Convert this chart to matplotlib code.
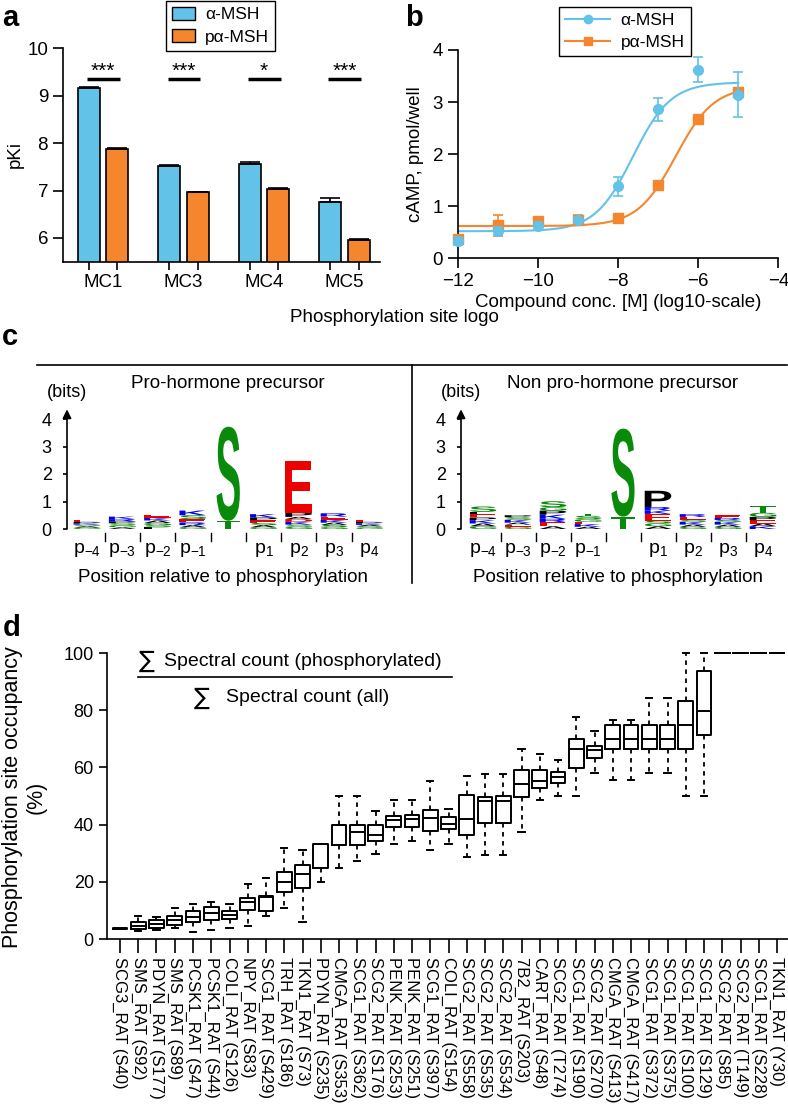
import numpy as np
import matplotlib
matplotlib.use('Agg')
import matplotlib.pyplot as plt
from matplotlib.textpath import TextPath
from matplotlib.patches import PathPatch, Patch
from matplotlib.font_manager import FontProperties
from matplotlib.transforms import Affine2D
from matplotlib.lines import Line2D

plt.rcParams['font.family'] = ['Liberation Sans', 'DejaVu Sans']
plt.rcParams['mathtext.fontset'] = 'custom'
plt.rcParams['mathtext.rm'] = 'Liberation Sans'
plt.rcParams['mathtext.it'] = 'Liberation Sans:italic'
plt.rcParams['axes.linewidth'] = 1.2
plt.rcParams['xtick.major.width'] = 1.2
plt.rcParams['ytick.major.width'] = 1.2
plt.rcParams['xtick.minor.width'] = 1.2

# ---------------- data ----------------
# panel a: binding affinity
receptors = ['MC1', 'MC3', 'MC4', 'MC5']
pki_msh = [9.17, 7.52, 7.56, 6.76]
pki_msh_err = [0.02, 0.02, 0.04, 0.08]
pki_pmsh = [7.87, 6.96, 7.04, 5.96]
pki_pmsh_err = [0.02, 0.02, 0.02, 0.02]
signif = ['***', '***', '*', '***']

# panel b: cAMP dose response
log_conc = [-12, -11, -10, -9, -8, -7, -6, -5]
camp_msh = [0.33, 0.53, 0.62, 0.74, 1.38, 2.86, 3.62, 3.14]
camp_msh_err = [0.08, 0.08, 0.08, 0.05, 0.19, 0.22, 0.24, 0.43]
camp_pmsh = [0.37, 0.63, 0.72, 0.74, 0.77, 1.41, 2.67, 3.19]
camp_pmsh_err = [0.05, 0.21, 0.05, 0.10, 0.03, 0.03, 0.03, 0.03]
# fitted sigmoid parameters (bottom, top, logEC50, hill)
fit_msh = (0.52, 3.38, -7.63, 0.92)
fit_pmsh = (0.62, 3.30, -6.56, 0.91)

# panel c: sequence logo stacks, bottom -> top (letter, bits)
logo_pro = [
    [('G', 0.05), ('A', 0.05), ('S', 0.06), ('K', 0.05), ('P', 0.05), ('E', 0.06)],
    [('A', 0.06), ('G', 0.07), ('S', 0.08), ('P', 0.07), ('R', 0.08), ('K', 0.09)],
    [('L', 0.06), ('S', 0.08), ('G', 0.08), ('A', 0.09), ('K', 0.09), ('E', 0.12)],
    [('G', 0.06), ('A', 0.08), ('R', 0.10), ('E', 0.12), ('S', 0.14), ('K', 0.17)],
    [('T', 0.30), ('S', 3.42)],
    [('G', 0.06), ('A', 0.08), ('S', 0.08), ('E', 0.10), ('P', 0.10), ('K', 0.12)],
    [('G', 0.08), ('S', 0.08), ('K', 0.10), ('D', 0.10), ('A', 0.08), ('P', 0.16), ('E', 1.86)],
    [('G', 0.07), ('S', 0.08), ('A', 0.08), ('K', 0.10), ('E', 0.12), ('R', 0.12)],
    [('G', 0.05), ('S', 0.05), ('A', 0.05), ('K', 0.06), ('P', 0.05), ('E', 0.06)],
]
logo_non = [
    [('G', 0.10), ('A', 0.10), ('K', 0.12), ('P', 0.10), ('E', 0.12), ('L', 0.08), ('S', 0.20)],
    [('G', 0.08), ('E', 0.08), ('A', 0.07), ('K', 0.10), ('S', 0.10), ('P', 0.07)],
    [('A', 0.10), ('E', 0.15), ('R', 0.12), ('K', 0.15), ('P', 0.15), ('G', 0.12), ('S', 0.22)],
    [('A', 0.08), ('K', 0.10), ('E', 0.08), ('G', 0.10), ('S', 0.12), ('T', 0.08)],
    [('T', 0.45), ('S', 3.20)],
    [('A', 0.10), ('G', 0.10), ('S', 0.10), ('E', 0.25), ('K', 0.12), ('R', 0.13), ('P', 0.59)],
    [('G', 0.08), ('A', 0.08), ('K', 0.10), ('S', 0.08), ('E', 0.10), ('R', 0.10)],
    [('G', 0.08), ('A', 0.08), ('K', 0.10), ('S', 0.07), ('R', 0.07), ('E', 0.10)],
    [('K', 0.10), ('A', 0.10), ('E', 0.12), ('P', 0.12), ('G', 0.15), ('T', 0.25)],
]
logo_pos = [r'p$_{-4}$', r'p$_{-3}$', r'p$_{-2}$', r'p$_{-1}$', '',
            r'p$_{1}$', r'p$_{2}$', r'p$_{3}$', r'p$_{4}$']

# panel d: occupancy boxplots
sites = ['SCG3_RAT (S40)', 'SMS_RAT (S92)', 'PDYN_RAT (S177)', 'SMS_RAT (S89)',
         'PCSK1_RAT (S47)', 'PCSK1_RAT (S44)', 'COLI_RAT (S126)', 'NPY_RAT (S83)',
         'SCG1_RAT (S429)', 'TRH_RAT (S186)', 'TKN1_RAT (S73)', 'PDYN_RAT (S235)',
         'CMGA_RAT (S353)', 'SCG1_RAT (S362)', 'SCG2_RAT (S176)', 'PENK_RAT (S253)',
         'PENK_RAT (S251)', 'SCG1_RAT (S397)', 'COLI_RAT (S154)', 'SCG2_RAT (S558)',
         'SCG2_RAT (S535)', 'SCG2_RAT (S534)', '7B2_RAT (S203)', 'CART_RAT (S48)',
         'SCG2_RAT (T274)', 'SCG1_RAT (S190)', 'SCG2_RAT (S270)', 'CMGA_RAT (S413)',
         'CMGA_RAT (S417)', 'SCG1_RAT (S372)', 'SCG1_RAT (S375)', 'SCG1_RAT (S100)',
         'SCG1_RAT (S129)', 'SCG2_RAT (S85)', 'SCG2_RAT (T149)', 'SCG1_RAT (S228)',
         'TKN1_RAT (Y30)']
occ_lo = [3.5, 2.8, 3.1, 3.9, 2.6, 3.1, 3.9, 4.5, 8.1, 10.9, 6.0, 19.8, 24.9, 27.1,
          29.7, 33.3, 34.2, 31.1, 33.2, 28.5, 29.3, 29.3, 37.5, 48.6, 50.1, 50.0, 58.1,
          55.5, 55.5, 58.2, 58.2, 50.1, 50.0, 100, 100, 100, 100]
occ_q1 = [3.6, 3.5, 3.9, 4.8, 5.9, 6.5, 6.9, 10.1, 9.8, 16.4, 17.8, 24.8, 33.0, 33.0,
          34.3, 39.1, 39.3, 37.8, 38.3, 36.3, 40.4, 40.4, 49.7, 52.9, 54.7, 59.8, 63.4,
          66.5, 66.5, 66.5, 66.5, 66.5, 71.2, 100, 100, 100, 100]
occ_med = [3.7, 4.6, 5.2, 6.6, 7.8, 9.2, 8.4, 13.0, 14.8, 20.0, 22.9, 33.2, 39.8, 37.5,
           36.4, 41.5, 42.1, 42.4, 40.1, 41.8, 48.2, 48.2, 54.3, 55.3, 56.6, 66.5, 66.0,
           69.8, 69.8, 69.8, 69.8, 74.8, 79.8, 100, 100, 100, 100]
occ_q3 = [3.8, 5.8, 6.5, 7.9, 9.9, 11.3, 9.8, 14.2, 15.2, 23.3, 25.7, 33.2, 39.8, 39.8,
          39.7, 43.0, 43.4, 45.1, 42.6, 50.5, 49.8, 50.0, 59.1, 59.0, 58.4, 69.8, 67.6,
          74.8, 74.8, 74.8, 74.8, 83.2, 93.6, 100, 100, 100, 100]
occ_hi = [3.9, 8.0, 7.7, 10.7, 12.2, 12.8, 12.2, 19.2, 21.2, 31.7, 31.1, 33.2, 49.9, 49.9,
          44.7, 48.5, 48.5, 55.4, 45.3, 56.9, 57.8, 57.7, 66.4, 64.7, 62.7, 77.5, 72.7,
          76.7, 76.7, 84.4, 84.4, 100, 100, 100, 100, 100, 100]

BLUE = '#63C2E8'
ORANGE = '#F5862E'
W, H = 788, 1105
fig = plt.figure(figsize=(W / 100, H / 100), dpi=100)


def rect(x0, y0, x1, y1):
    # pixel box (y from top) -> figure fraction rect
    return [x0 / W, 1 - y1 / H, (x1 - x0) / W, (y1 - y0) / H]


def fx(x):
    return x / W


def fy(y):
    return 1 - y / H


# ---------------- panel a ----------------
axa = fig.add_axes(rect(62.7, 48.3, 380, 261.7))
xg = np.arange(len(receptors))
off, bw = 0.177, 0.274
axa.bar(xg - off, pki_msh, bw, color=BLUE, edgecolor='k', lw=1.2)
axa.bar(xg + off, pki_pmsh, bw, color=ORANGE, edgecolor='k', lw=1.2)
axa.errorbar(xg - off, pki_msh, yerr=[np.zeros(4), pki_msh_err], fmt='none',
             ecolor='k', capsize=7, elinewidth=1.2, capthick=1.2)
axa.errorbar(xg + off, pki_pmsh, yerr=[np.zeros(4), pki_pmsh_err], fmt='none',
             ecolor='k', capsize=7, elinewidth=1.2, capthick=1.2)
for i, s in enumerate(signif):
    axa.plot([i - 0.2, i + 0.21], [9.35, 9.35], color='k', lw=2.5, solid_capstyle='butt')
    axa.text(i, 9.52, s, ha='center', va='center', fontsize=15)
axa.set_ylim(5.5, 10)
axa.set_xlim(-0.504, 3.443)
axa.set_yticks([6, 7, 8, 9, 10])
axa.set_xticks(xg)
axa.set_xticklabels(receptors)
axa.set_xticks(np.concatenate([xg - off, xg + off]), minor=True)
axa.tick_params(axis='x', which='major', length=0, pad=9, labelsize=13.5)
axa.tick_params(axis='x', which='minor', length=6, direction='out')
axa.tick_params(axis='y', length=7, labelsize=13.5)
axa.spines[['top', 'right']].set_visible(False)
fig.text(fx(15), fy(155), 'pKi', rotation=90, ha='center', va='center', fontsize=13.5)
fig.legend([Patch(facecolor=BLUE, edgecolor='k', lw=1), Patch(facecolor=ORANGE, edgecolor='k', lw=1)],
           ['α-MSH', 'pα-MSH'], loc='upper left', bbox_to_anchor=(fx(166), fy(1)),
           borderaxespad=0, fancybox=False, edgecolor='k', framealpha=1, fontsize=12.5,
           handlelength=1.3, handleheight=0.75, borderpad=0.35, labelspacing=0.4,
           handletextpad=0.6)
fig.text(fx(2), fy(18), 'a', fontsize=21, fontweight='bold', ha='left', va='center')

# ---------------- panel b ----------------
axb = fig.add_axes(rect(457.7, 50, 778.3, 258.3))


def sigmoid(x, p):
    bottom, top, ec, hill = p
    return bottom + (top - bottom) / (1 + 10 ** ((ec - x) * hill))


xs = np.linspace(-12, -5, 300)
axb.plot(xs, sigmoid(xs, fit_msh), color=BLUE, lw=1.5)
axb.plot(xs, sigmoid(xs, fit_pmsh), color=ORANGE, lw=1.5)
axb.errorbar(log_conc, camp_pmsh, yerr=camp_pmsh_err, fmt='s', color=ORANGE, ms=6.5,
             capsize=3.5, elinewidth=1.2, capthick=1.2, clip_on=False, zorder=3)
axb.errorbar(log_conc, camp_msh, yerr=camp_msh_err, fmt='o', color=BLUE, ms=7,
             capsize=3.5, elinewidth=1.2, capthick=1.2, clip_on=False, zorder=4)
axb.set_xlim(-12, -4)
axb.set_ylim(0, 4)
axb.set_xticks([-12, -10, -8, -6, -4])
axb.set_yticks([0, 1, 2, 3, 4])
axb.tick_params(length=7, labelsize=13.5)
axb.spines[['top', 'right']].set_visible(False)
axb.set_xlabel('Compound conc. [M] (log10-scale)', fontsize=13.5, labelpad=3)
axb.set_ylabel('cAMP, pmol/well', fontsize=13.5, labelpad=6)
fig.legend([Line2D([], [], color=BLUE, marker='o', ms=6, lw=1.5),
            Line2D([], [], color=ORANGE, marker='s', ms=6, lw=1.5)],
           ['α-MSH', 'pα-MSH'], loc='upper left', bbox_to_anchor=(fx(559), fy(7)),
           borderaxespad=0, fancybox=False, edgecolor='k', framealpha=1, fontsize=12.5,
           handlelength=2.6, borderpad=0.35, labelspacing=0.4, handletextpad=0.6)
fig.text(fx(405), fy(18), 'b', fontsize=21, fontweight='bold', ha='left', va='center')

# ---------------- panel c ----------------
fig.text(fx(2), fy(337), 'c', fontsize=21, fontweight='bold', ha='left', va='center')
fig.text(fx(394), fy(318), 'Phosphorylation site logo', fontsize=13.5, ha='center', va='center')
fig.add_artist(Line2D([fx(37), fx(787)], [fy(365), fy(365)], color='k', lw=1.2))
fig.add_artist(Line2D([fx(412), fx(412)], [fy(365), fy(583)], color='k', lw=1.2))

AA_COLORS = {}
for a in 'GSTYC':
    AA_COLORS[a] = '#0a8a0a'
for a in 'KRH':
    AA_COLORS[a] = '#0000ee'
for a in 'DE':
    AA_COLORS[a] = '#ee0000'
for a in 'QN':
    AA_COLORS[a] = '#800080'
for a in 'AVLIPWFM':
    AA_COLORS[a] = 'k'
logo_font = FontProperties(family='Liberation Sans', weight='bold')


def draw_letter(ax, ch, xc, y0, w, h):
    tp = TextPath((0, 0), ch, size=1, prop=logo_font)
    bb = tp.get_extents()
    tr = Affine2D().translate(-bb.x0, -bb.y0).scale(w / bb.width, h / bb.height).translate(xc - w / 2, y0)
    ax.add_patch(PathPatch(tr.transform_path(tp), facecolor=AA_COLORS[ch], edgecolor='none', lw=0))


def draw_logo(axis_px, col0_px, step, stacks, subtitle):
    ylo, yhi = 0, 4.35
    bit = 27.5
    xmin = (axis_px - col0_px) / step
    xmax = 8.6
    ax = fig.add_axes(rect(axis_px, 529 - yhi * bit, axis_px + (xmax - xmin) * step, 529))
    ax.set_xlim(xmin, xmax)
    ax.set_ylim(ylo, yhi)
    for sp in ax.spines.values():
        sp.set_visible(False)
    ax.set_xticks([])
    ax.set_yticks([0, 1, 2, 3, 4])
    ax.tick_params(axis='y', length=3, pad=8, labelsize=13)
    ax.annotate('', xy=(xmin, yhi), xytext=(xmin, 0), annotation_clip=False,
                arrowprops=dict(arrowstyle='-|>', lw=1.2, color='k', mutation_scale=13,
                                shrinkA=0, shrinkB=0))
    for i, stack in enumerate(stacks):
        y = 0
        w = 0.66 if i == 4 else 0.76
        for ch, h in stack:
            draw_letter(ax, ch, i, y, w, h)
            y += h
        ax.text(i, -0.78, logo_pos[i], ha='center', va='center', fontsize=14)
    for i in range(8):
        ax.plot([i + 0.5, i + 0.5], [-0.15, -0.42], color='k', lw=1, clip_on=False)
    ax.text(xmin, 4.95, '(bits)', ha='center', va='center', fontsize=13)
    ax.text(4, 5.3, subtitle, ha='center', va='center', fontsize=13.5)
    ax.text(3.85, -1.75, 'Position relative to phosphorylation', ha='center', va='center', fontsize=13.5)
    return ax


draw_logo(67, 87, 35.3, logo_pro, 'Pro-hormone precursor')
draw_logo(461, 483, 35.0, logo_non, 'Non pro-hormone precursor')

# ---------------- panel d ----------------
fig.text(fx(3), fy(628), 'd', fontsize=21, fontweight='bold', ha='left', va='center')
axd = fig.add_axes(rect(107, 653, 788, 939))
pos = np.arange(1, len(sites) + 1)
stats = [dict(whislo=a, q1=b, med=c, q3=d, whishi=e, fliers=[])
         for a, b, c, d, e in zip(occ_lo, occ_q1, occ_med, occ_q3, occ_hi)]
bp = axd.bxp(stats, positions=pos, widths=0.8, capwidths=0.35, showfliers=False,
             manage_ticks=False,
             boxprops=dict(color='k', lw=1.4),
             medianprops=dict(color='k', lw=1.4),
             whiskerprops=dict(color='k', lw=1.3, linestyle=(0, (2.5, 2.5))),
             capprops=dict(color='k', lw=1.4))
for arts in bp.values():
    for art in arts:
        art.set_clip_on(False)
axd.set_xlim(0.288, 37.6)
axd.set_ylim(0, 100)
axd.set_yticks([0, 20, 40, 60, 80, 100])
axd.set_xticks(pos)
axd.set_xticklabels(sites, rotation=-90, fontsize=12)
axd.tick_params(axis='x', length=10, pad=3)
axd.tick_params(axis='y', length=6, labelsize=13)
axd.spines[['top', 'right']].set_visible(False)
fig.text(fx(24), fy(797), 'Phosphorylation site occupancy\n(%)', rotation=90,
         ha='center', va='center', fontsize=15.5, multialignment='center', linespacing=1.15)
fig.text(fx(147), fy(661), '∑', ha='center', va='center', fontsize=17, family='DejaVu Sans')
fig.text(fx(164), fy(661), 'Spectral count (phosphorylated)', ha='left', va='center', fontsize=14)
fig.add_artist(Line2D([fx(138), fx(452)], [fy(677), fy(677)], color='k', lw=1.2))
fig.text(fx(202), fy(698), '∑', ha='center', va='center', fontsize=17, family='DejaVu Sans')
fig.text(fx(226), fy(698), 'Spectral count (all)', ha='left', va='center', fontsize=14)

fig.savefig('out.png', dpi=100)
